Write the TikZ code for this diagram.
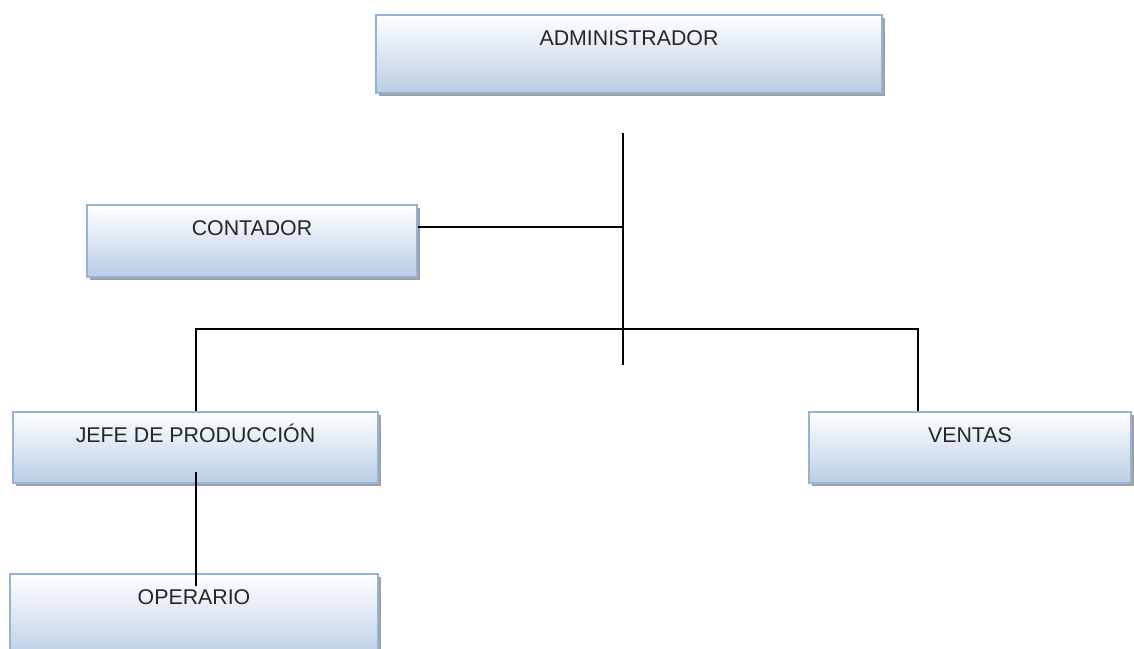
\documentclass[tikz,border=0pt]{standalone}
\usepackage{fontspec}
\setmainfont{Liberation Sans}
\usetikzlibrary{shadows}

\definecolor{marco}{RGB}{149,179,215}
\definecolor{fondo}{RGB}{185,205,229}
\definecolor{sombra}{RGB}{160,160,160}
\definecolor{letra}{RGB}{38,38,38}

\tikzset{every picture/.style={line width=0.75pt}}
\tikzset{
  cargo/.style={draw=marco, line width=1.5pt, top color=white, bottom color=fondo,
    inner sep=0pt, text height=23pt, text depth=30.75pt, text=letra,
    font=\fontsize{16}{19}\selectfont,
    drop shadow={shadow xshift=2.25pt, shadow yshift=-2.25pt, fill=sombra, opacity=1}},
  enlace/.style={draw=black, line width=1.5pt}
}

\begin{document}
\begin{tikzpicture}[x=0.75pt,y=0.75pt,yscale=-1,xscale=1]
		\useasboundingbox (0,0) rectangle (1134,649);

		% Cargos
		\node [cargo, minimum width=379.5pt, text depth=35.25pt] (admin) at (629,54) {ADMINISTRADOR};
		\node [cargo, minimum width=247.5pt] (contador) at (252,241) {CONTADOR};
		\node [cargo, minimum width=273.75pt] (jefe) at (195.5,447.5) {JEFE DE PRODUCCIÓN};
		\node [cargo, minimum width=241.5pt] (ventas) at (970,447.5) {VENTAS};
		\node [cargo, minimum width=276pt, text depth=42pt] (operario) at (194,617) {OPERARIO};

		% Puntos de la linea
		\coordinate (tronco) at (623,133);
		\coordinate (troncofin) at (623,365);
		\coordinate (barra) at (196,329);
		\coordinate (barrafin) at (918,329);

		% Enlaces
		\draw [enlace] (tronco) -- (troncofin);
		\draw [enlace] ([yshift=-10.5pt]contador.east) -- ([yshift=-10.5pt]contador.east -| tronco);
		\draw [enlace] (jefe.north -| barra) -- (barra) -- (barrafin) -- (barrafin |- ventas.north);
		\draw [enlace] ([yshift=18.4pt]jefe.center -| barra) -- ([yshift=9.75pt]operario.north -| barra);

\end{tikzpicture}
\end{document}
